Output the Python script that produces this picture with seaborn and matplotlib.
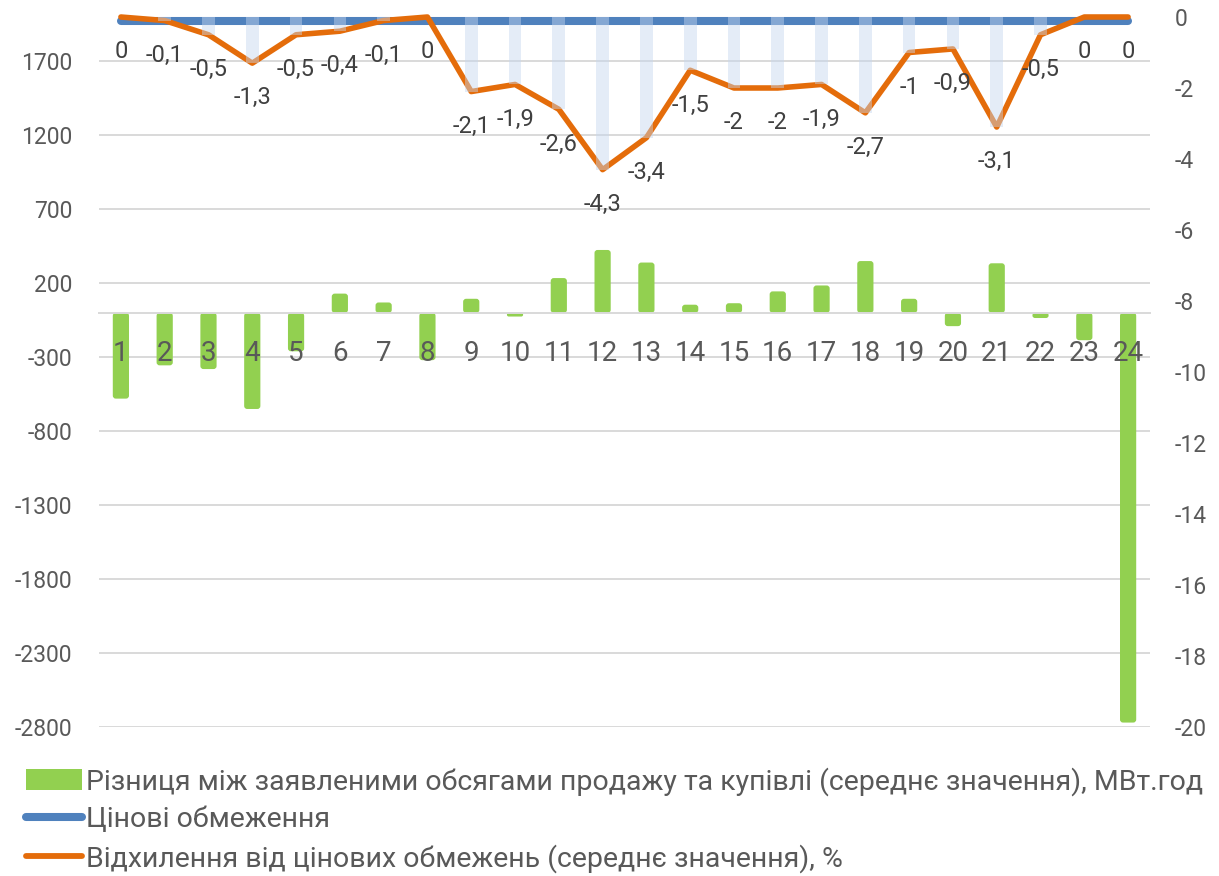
import matplotlib
matplotlib.use("Agg")
import numpy as np
import pandas as pd
import matplotlib.pyplot as plt
import matplotlib.transforms as mtransforms
import seaborn as sns
from matplotlib.lines import Line2D
from matplotlib.patches import Patch, FancyBboxPatch

# дані з графіка
hours = list(range(1, 25))
volume_diff = [-580, -355, -380, -650, -260, 130, 70, -320, 95, -25, 235, 425, 340,
               55, 65, 145, 185, 350, 95, -90, 335, -35, -185, -2770]
deviation = [0, -0.1, -0.5, -1.3, -0.5, -0.4, -0.1, 0, -2.1, -1.9, -2.6, -4.3, -3.4,
             -1.5, -2, -2, -1.9, -2.7, -1, -0.9, -3.1, -0.5, 0, 0]
price_limit = [0] * 24

legend_labels = [
    "Різниця між заявленими обсягами продажу та купівлі (середнє значення), МВт.год",
    "Цінові обмеження",
    "Відхилення від цінових обмежень (середнє значення), %",
]

GREEN = "#92d050"
BLUE = "#4f81bd"
ORANGE = "#e46c0a"
DROP = "#c5d7ef"
GRID = "#d9d9d9"
TXT = "#595959"

sns.set_theme(style="white")
plt.rcParams['font.family'] = ['Roboto', 'DejaVu Sans']
plt.rcParams['axes.unicode_minus'] = False

df = pd.DataFrame({
    'hour': [str(h) for h in hours],
    'pos': np.arange(len(hours)),
    'diff': volume_diff,
    'dev': deviation,
    'limit': price_limit,
})

fig = plt.figure(figsize=(12.19, 8.76), dpi=100)
ax = fig.add_axes([99 / 1219, 149 / 876, 1051 / 1219, 710 / 876])

# стовпці різниці обсягів (ліва вісь)
sns.barplot(data=df, x='hour', y='diff', color=GREEN, width=0.37,
            saturation=1, ax=ax, zorder=2, linewidth=0)
ax.set_xlim(-0.5, 23.5)
ax.set_ylim(-2800, 2000)

# трохи заокруглені кути стовпців, як в Excel
bbox = ax.get_window_extent()
px_x = bbox.width / 24
px_y = bbox.height / 4800
for bar in list(ax.patches):
    x0, w = bar.get_x(), bar.get_width()
    y0, h = bar.get_y(), bar.get_height()
    y0, h = min(y0, y0 + h), abs(h)
    r = min(3 / px_x, 0.5 * h * px_y / px_x)
    fb = FancyBboxPatch((x0, y0), w, h, boxstyle=f"round,pad=0,rounding_size={r}",
                        mutation_aspect=px_x / px_y, facecolor=GREEN,
                        edgecolor='none', zorder=2)
    bar.remove()
    ax.add_patch(fb)

ax.set_yticks(np.arange(-2800, 1701, 500))
ax.grid(axis='y', color=GRID, lw=1.4)
ax.grid(axis='x', visible=False)
ax.set_axisbelow(True)
for s in ['top', 'left', 'right']:
    ax.spines[s].set_visible(False)
ax.spines['bottom'].set_position(('data', 0))
ax.spines['bottom'].set_color(GRID)
ax.spines['bottom'].set_linewidth(1.4)
ax.tick_params(axis='x', length=0, labelbottom=False)
ax.tick_params(axis='y', length=0, pad=19, labelsize=16.5, labelcolor=TXT)
ax.set_xlabel('')
ax.set_ylabel('')

# підписи годин над стовпцями
for p, h in zip(df['pos'], df['hour']):
    ax.annotate(h, (p, 0), xytext=(0, -29), textcoords='offset points',
                ha='center', va='center', fontsize=20, color=TXT, zorder=6)

# права вісь: обмеження та відхилення
ax2 = ax.twinx()
ax2.bar(df['pos'], df['dev'], width=0.29, color=DROP, alpha=0.45,
        linewidth=0, zorder=4)
sns.lineplot(data=df, x='pos', y='limit', ax=ax2, color=BLUE, lw=5.8,
             solid_capstyle='round', zorder=2, clip_on=False)
blue_line = ax2.lines[-1]
blue_line.set_transform(mtransforms.offset_copy(ax2.transData, fig=fig, y=-3, units='points'))
sns.lineplot(data=df, x='pos', y='dev', ax=ax2, color=ORANGE, lw=4.0,
             solid_joinstyle='round', solid_capstyle='round', zorder=3, clip_on=False)
for p, v in zip(df['pos'], df['dev']):
    ax2.annotate(f"{v:g}".replace('.', ','), (p, v), xytext=(0, -25),
                 textcoords='offset points', ha='center', va='center',
                 fontsize=17, color='#404040')
ax2.set_ylim(-20, 0)
ax2.set_yticks(np.arange(-20, 1, 2))
ax2.set_xlim(-0.5, 23.5)
ax2.grid(False)
for s in ax2.spines.values():
    s.set_visible(False)
ax2.tick_params(axis='y', length=0, pad=18, labelsize=16.5, labelcolor=TXT)
ax2.set_xlabel('')
ax2.set_ylabel('')

handles = [
    Patch(facecolor=GREEN, edgecolor='none'),
    Line2D([], [], color=BLUE, lw=5.8, solid_capstyle='round'),
    Line2D([], [], color=ORANGE, lw=4.2, solid_capstyle='round'),
]
fig.legend(handles, legend_labels, loc='upper left',
           bbox_to_anchor=(26 / 1219, 1 - 767 / 876), frameon=False,
           fontsize=20.5, handlelength=1.95, handleheight=0.75, handletextpad=0.15,
           labelspacing=0.37, borderaxespad=0, borderpad=0, labelcolor=TXT)

fig.savefig("out.png", dpi=100)
